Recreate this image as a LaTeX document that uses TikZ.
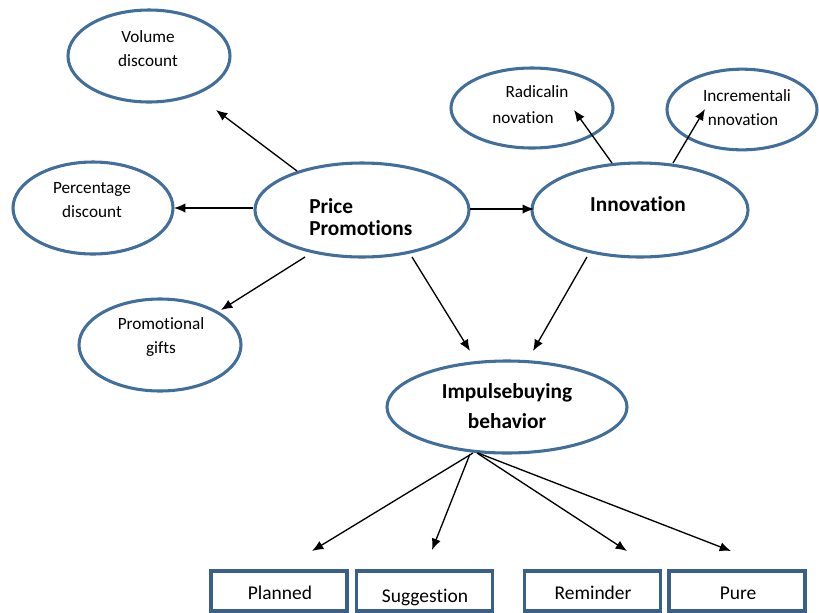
\documentclass[tikz,border=0pt]{standalone}
\usepackage{fontspec}
\setmainfont{Carlito}[Ligatures=NoCommon]
\usetikzlibrary{shapes.geometric,arrows.meta}
\definecolor{ellblue}{RGB}{65,110,155}
\definecolor{boxblue}{RGB}{58,95,138}
\begin{document}
\begin{tikzpicture}[x=0.75pt,y=-0.75pt,
  ell/.style={ellipse,draw=ellblue,line width=2.3pt,inner sep=0pt},
  outbox/.style={rectangle,draw=boxblue,line width=2.3pt,minimum width=102pt,minimum height=30pt,inner sep=0pt},
  boxtext/.style={font=\fontsize{14.6}{16}\selectfont,inner sep=0pt},
  small/.style={font=\fontsize{12.9}{18}\selectfont,align=center,inner sep=0pt},
  big/.style={font=\fontsize{16}{17}\selectfont\bfseries,align=left,inner sep=0pt},
  arr/.style={draw=black,line width=1pt,-{Latex[length=8.5pt,width=7pt]}}]
\useasboundingbox (0,0) rectangle (819,612);
\clip (0,0) rectangle (819,612);
% ellipses
\node[ell,minimum width=121.5pt,minimum height=69pt] (vol) at (149,56) {};
\node[ell,minimum width=120pt,minimum height=69pt] (pct) at (93,208) {};
\node[ell,minimum width=121.5pt,minimum height=69pt] (gift) at (160,345) {};
\node[ell,minimum width=160.5pt,minimum height=70.5pt] (price) at (362,210) {};
\node[ell,minimum width=162pt,minimum height=70.5pt] (innov) at (640,210) {};
\node[ell,minimum width=121.5pt,minimum height=60pt] (rad) at (532,108) {};
\node[ell,minimum width=112.5pt,minimum height=60.5pt] (inc) at (742,109.5) {};
\node[ell,minimum width=180pt,minimum height=69pt] (imp) at (507,407) {};
% texts
\node[small] (tvol) at (148,49) {Volume\\discount};
\node[small] (tpct) at (92,200) {Percentage\\discount};
\node[small] (tgift) at (161,337) {Promotional\\gifts};
\node[big,anchor=west,font=\fontsize{16}{16.5}\selectfont\bfseries] (tprice) at (309,217) {Price\\Promotions};
\node[big] (tinnov) at (638,204) {Innovation};
\node[small,anchor=base] (trad1) at (537,97) {Radicalin};
\node[small,anchor=base] (trad2) at (523,123) {novation};
\node[small,anchor=base] (tinc1) at (747,101) {Incrementali};
\node[small,anchor=base] (tinc2) at (743,125) {nnovation};
\node[big,align=center,font=\fontsize{16}{22}\selectfont\bfseries] (timp) at (507,406) {Impulsebuying\\behavior};
% boxes
\node[outbox] (plan) at (279,591) {};
\node[outbox] (sugg) at (424.5,591) {};
\node[outbox] (rem) at (592.5,591) {};
\node[outbox] (pure) at (737,591) {};
\node[boxtext,anchor=base] (tplan) at (280,599) {Planned};
\node[boxtext,anchor=base] (tsugg) at (425,602) {Suggestion};
\node[boxtext,anchor=base] (trem) at (593,599) {Reminder};
\node[boxtext,anchor=base] (tpure) at (738,599) {Pure};
% arrow end points
\coordinate (a1) at (297,171); \coordinate (b1) at (216,110);
\coordinate (a2) at (253,208); \coordinate (b2) at (174,208);
\coordinate (a3) at (305,257); \coordinate (b3) at (221,310);
\coordinate (a4) at (470,209); \coordinate (b4) at (534,209);
\coordinate (a5) at (612,163); \coordinate (b5) at (574,110);
\coordinate (a6) at (673,163); \coordinate (b6) at (705,109);
\coordinate (a7) at (412,257); \coordinate (b7) at (470,351);
\coordinate (a8) at (587,257); \coordinate (b8) at (533,351);
\coordinate (a9) at (473,453); \coordinate (b9) at (312,551);
\coordinate (a10) at (470,454); \coordinate (b10) at (432,550);
\coordinate (a11) at (477,453); \coordinate (b11) at (627,551);
\coordinate (a12) at (478,453); \coordinate (b12) at (731,551);
\draw[arr] (a1) -- (b1);
\draw[arr] (a2) -- (b2);
\draw[arr] (a3) -- (b3);
\draw[arr] (a4) -- (b4);
\draw[arr] (a5) -- (b5);
\draw[arr] (a6) -- (b6);
\draw[arr] (a7) -- (b7);
\draw[arr] (a8) -- (b8);
\draw[arr] (a9) -- (b9);
\draw[arr] (a10) -- (b10);
\draw[arr] (a11) -- (b11);
\draw[arr] (a12) -- (b12);
\end{tikzpicture}
\end{document}
